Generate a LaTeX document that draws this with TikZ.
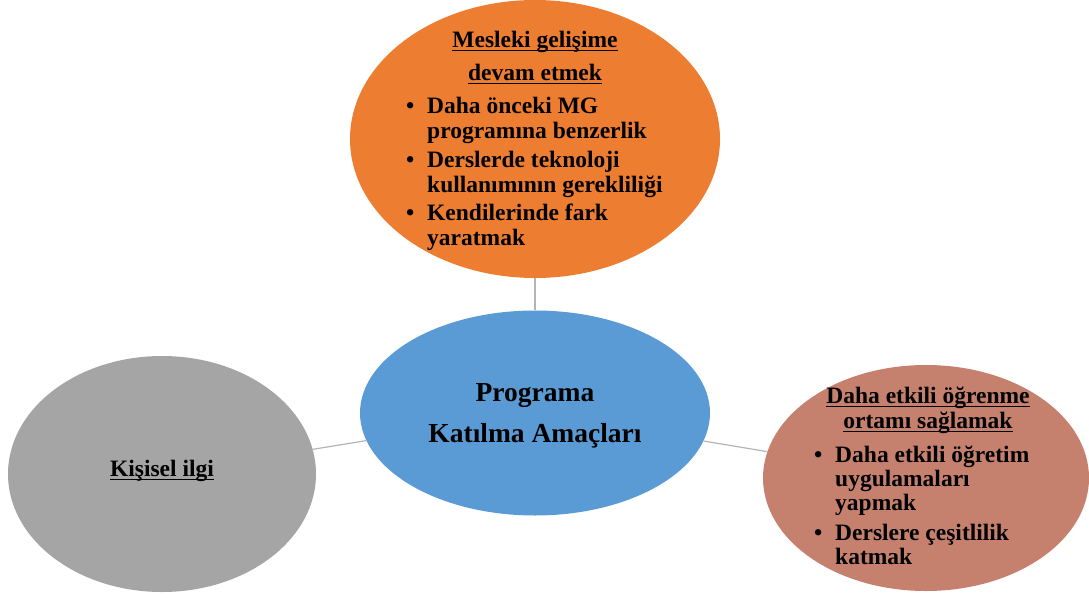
\documentclass[tikz,border=0pt]{standalone}
\usepackage{fontspec}
\setmainfont{Liberation Serif}
\usetikzlibrary{shapes.geometric}

\definecolor{topFill}{HTML}{ED7D31}
\definecolor{hubFill}{HTML}{5B9BD5}
\definecolor{leftFill}{HTML}{A5A5A5}
\definecolor{rightFill}{HTML}{C5806E}
\definecolor{linkGray}{HTML}{B4B4B4}

% underline set a fixed distance under the baseline
\newcommand{\ulword}[1]{\setbox0\hbox{#1}\rlap{\rule[-4.2pt]{\wd0}{1.3pt}}\box0}
\setlength{\tabcolsep}{0pt}

\begin{document}
\begin{tikzpicture}[x=1pt, y=-1pt,
  bubble/.style={ellipse, inner sep=0pt, draw=none},
  link/.style={draw=linkGray, line width=1.2pt},
  body/.style={inner sep=0pt, font=\fontsize{23.5}{25}\selectfont\bfseries},
  hubtext/.style={inner sep=0pt, anchor=base, font=\fontsize{27.5}{33}\selectfont\bfseries},
  headline/.style={body, anchor=base}
]
\useasboundingbox (0,0) rectangle (1089,597);

% the four bubbles
\node[bubble, fill=topFill, minimum width=370pt, minimum height=278pt] (top) at (535,139) {};
\node[bubble, fill=hubFill, minimum width=350pt, minimum height=205pt] (hub) at (535,413) {};
\node[bubble, fill=leftFill, minimum width=308pt, minimum height=236pt] (left) at (162,474) {};
\node[bubble, fill=rightFill, minimum width=326pt, minimum height=226pt] (right) at (926,478) {};

% spokes from the hub
\draw[link] (top) -- (hub);
\draw[link] (left) -- (hub);
\draw[link] (hub) -- (right);

% hub label
\node[hubtext] (hubA) at (535,401) {Programa};
\node[hubtext] (hubB) at (535,442) {Katılma Amaçları};

% top bubble
\node[headline] (topH1) at (535,47) {\ulword{Mesleki gelişime}};
\node[headline] (topH2) at (535,80) {\ulword{devam etmek}};
\node[body, anchor=base west] (topList) at (406,113) {%
  \begin{tabular}[t]{@{}l@{\hspace{12.8pt}}l@{}}
  \textbullet & Daha önceki MG\\
              & programına benzerlik\\[4.5pt]
  \textbullet & Derslerde teknoloji\\
              & kullanımının gerekliliği\\[2.5pt]
  \textbullet & Kendilerinde fark\\
              & yaratmak
  \end{tabular}};

% left bubble
\node[headline] (leftH) at (162,476) {\ulword{Kişisel ilgi}};

% right bubble
\node[headline] (rightH1) at (928,403) {\ulword{Daha etkili öğrenme}};
\node[headline] (rightH2) at (928,428) {\ulword{ortamı sağlamak}};
\node[body, anchor=base west, font=\fontsize{23.5}{24}\selectfont\bfseries] (rightList) at (814,462) {%
  \begin{tabular}[t]{@{}l@{\hspace{12.8pt}}l@{}}
  \textbullet & Daha etkili öğretim\\
              & uygulamaları\\
              & yapmak\\[6pt]
  \textbullet & Derslere çeşitlilik\\
              & katmak
  \end{tabular}};
\end{tikzpicture}
\end{document}
